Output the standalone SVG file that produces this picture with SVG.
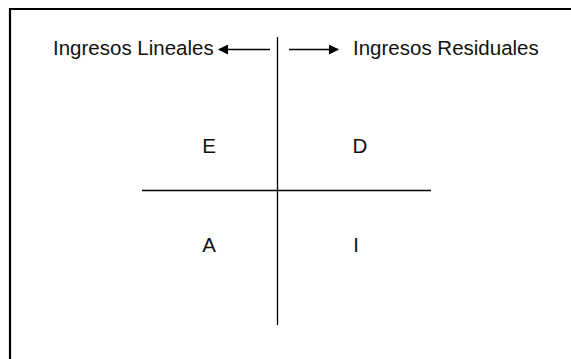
<svg xmlns="http://www.w3.org/2000/svg" width="571" height="359" viewBox="0 0 571 359">
  <style>
    .frame { fill: none; stroke: #000; stroke-width: 2.2; }
    .axis { stroke: #000; stroke-width: 1.3; fill: none; }
    .arrow { stroke: #000; stroke-width: 1.5; fill: none; }
    .label { font-family: "Liberation Sans", Arial, sans-serif; font-size: 20.5px; fill: #111; }
    .quad { font-family: "Liberation Sans", Arial, sans-serif; font-size: 20.5px; fill: #111; text-anchor: middle; }
  </style>
  <defs>
    <marker id="head" viewBox="0 0 10 10" refX="9" refY="5" markerWidth="14" markerHeight="10" markerUnits="userSpaceOnUse" orient="auto">
      <path d="M0,0 L10,5 L0,10 Z" fill="#000"/>
    </marker>
  </defs>
  <rect width="571" height="359" fill="#fff"/>
  <!-- outer frame, open to the right and bottom -->
  <path class="frame" d="M10,370 V9 H580"/>
  <!-- quadrant axes and arrows -->
  <g id="connectors">
    <line class="axis" x1="277.5" y1="37" x2="277.5" y2="325"/>
    <line class="axis" x1="142" y1="190.5" x2="431" y2="190.5"/>
    <line class="arrow" x1="270" y1="49.5" x2="219" y2="49.5" marker-end="url(#head)"/>
    <line class="arrow" x1="289" y1="49.5" x2="338" y2="49.5" marker-end="url(#head)"/>
  </g>
  <g id="ingresos-lineales"><text class="label" x="53" y="55">Ingresos Lineales</text></g>
  <g id="ingresos-residuales"><text class="label" x="353" y="55">Ingresos Residuales</text></g>
  <g id="quad-e"><text class="quad" x="209" y="153">E</text></g>
  <g id="quad-d"><text class="quad" x="360" y="153">D</text></g>
  <g id="quad-a"><text class="quad" x="209" y="252">A</text></g>
  <g id="quad-i"><text class="quad" x="356" y="252">I</text></g>
</svg>
